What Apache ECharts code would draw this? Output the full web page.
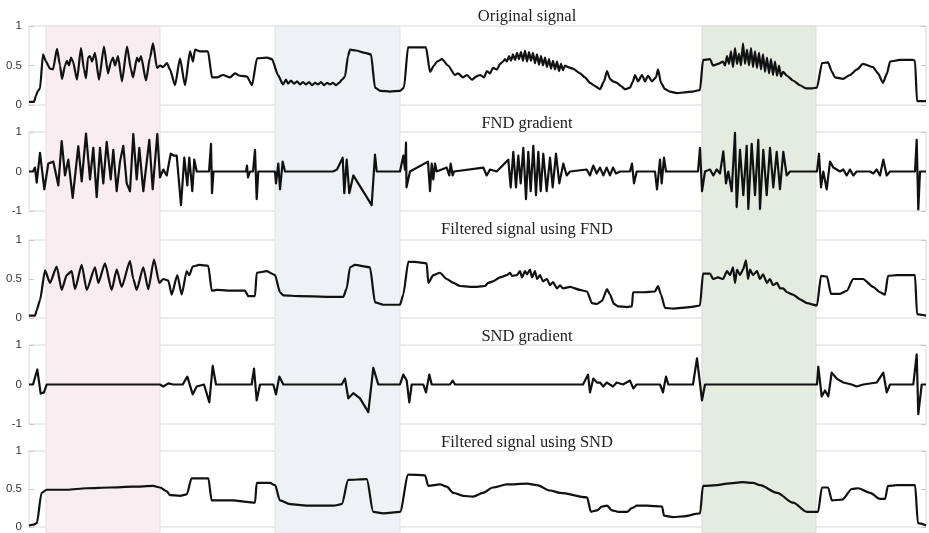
<!DOCTYPE html>
<html><head><meta charset="utf-8">
<script src="https://cdn.jsdelivr.net/npm/echarts@6/dist/echarts.min.js"></script>
<style>html,body{margin:0;padding:0;background:#fff}#c{width:929px;height:533px}</style>
</head><body><div id="c"></div>
<script>
const panelTitles = ['Original signal','FND gradient','Filtered signal using FND','SND gradient','Filtered signal using SND'];
const unitTicks = [0, 0.5, 1];
const gradTicks = [-1, 0, 1];
// shaded segments (sample index range)
const regions = [[46,160,'#f8edf0','#e6dde0'],[275,400,'#eef1f5','#dfe3e8'],[702,816,'#e3ecdf','#d5ddd2']];

const originalSignal = [[29,0.04],[34,0.04],[36,0.12],[38,0.18],[40,0.21],[43,0.64],[46,0.55],[50,0.46],[53,0.45],[57,0.71],[60,0.5],[62,0.33],[65,0.5],[67,0.56],[69,0.5],[71,0.6],[73,0.55],[77,0.32],[81,0.72],[84,0.45],[86,0.34],[88,0.6],[90,0.62],[92,0.55],[95,0.66],[99,0.32],[104,0.74],[108,0.4],[111,0.55],[113,0.6],[115,0.5],[118,0.62],[122,0.3],[127,0.74],[131,0.45],[133,0.35],[137,0.6],[139,0.55],[141,0.62],[146,0.31],[150,0.6],[153,0.78],[157,0.47],[160,0.5],[163,0.48],[167,0.53],[170,0.45],[175,0.25],[180,0.59],[185,0.25],[190,0.68],[193,0.55],[195,0.7],[200,0.68],[208,0.68],[212,0.35],[217,0.35],[223,0.38],[230,0.35],[235,0.4],[240,0.37],[247,0.36],[252,0.25],[257,0.59],[267,0.6],[272,0.58],[278,0.38],[283,0.26],[286,0.32],[288,0.27],[291,0.31],[294,0.27],[297,0.3],[300,0.26],[303,0.29],[306,0.26],[309,0.29],[312,0.25],[315,0.28],[318,0.26],[321,0.29],[324,0.25],[327,0.28],[330,0.26],[333,0.28],[336,0.25],[339,0.28],[342,0.32],[345,0.36],[348,0.62],[350,0.7],[356,0.69],[365,0.66],[371,0.64],[375,0.22],[380,0.18],[390,0.17],[400,0.18],[404,0.22],[408,0.73],[426,0.73],[430,0.42],[434,0.5],[437,0.55],[442,0.58],[448,0.5],[455,0.38],[458,0.4],[463,0.35],[467,0.38],[472,0.32],[476,0.36],[480,0.38],[484,0.35],[487,0.43],[490,0.4],[493,0.47],[497,0.45],[500,0.52],[503,0.55],[505,0.58],[507,0.55],[509,0.62],[511,0.56],[513,0.64],[515,0.57],[517,0.66],[519,0.58],[521,0.67],[523,0.56],[525,0.69],[527,0.55],[529,0.67],[531,0.56],[533,0.66],[535,0.53],[537,0.64],[539,0.51],[541,0.62],[543,0.5],[545,0.6],[547,0.48],[549,0.58],[551,0.46],[553,0.56],[555,0.45],[557,0.55],[559,0.43],[561,0.52],[563,0.44],[565,0.5],[568,0.48],[573,0.46],[580,0.4],[585,0.35],[590,0.28],[595,0.24],[600,0.2],[604,0.3],[607,0.43],[610,0.33],[613,0.3],[617,0.28],[621,0.24],[625,0.2],[630,0.22],[633,0.3],[635,0.38],[638,0.3],[642,0.38],[645,0.3],[648,0.37],[652,0.3],[656,0.35],[658,0.45],[661,0.28],[665,0.2],[670,0.17],[677,0.15],[685,0.16],[693,0.17],[700,0.19],[703,0.57],[710,0.58],[713,0.5],[718,0.52],[723,0.55],[725,0.5],[727,0.62],[729,0.52],[731,0.68],[733,0.48],[735,0.72],[737,0.52],[739,0.65],[741,0.5],[743,0.78],[745,0.52],[747,0.7],[749,0.5],[751,0.72],[753,0.48],[755,0.68],[757,0.47],[759,0.66],[761,0.45],[763,0.64],[765,0.42],[767,0.6],[769,0.4],[771,0.58],[773,0.38],[775,0.55],[777,0.37],[779,0.5],[781,0.36],[783,0.42],[787,0.37],[793,0.31],[800,0.25],[806,0.21],[812,0.21],[817,0.22],[822,0.53],[828,0.54],[832,0.42],[835,0.35],[843,0.33],[850,0.38],[857,0.45],[863,0.52],[873,0.48],[878,0.4],[883,0.28],[887,0.4],[890,0.55],[900,0.57],[913,0.57],[915,0.56],[917,0.05],[926,0.05]];

const fndGradient = [[29,0],[33,0],[35,0.1],[36.7,-0.28],[40,0.47],[44.3,-0.45],[48.3,0.2],[53.3,0.25],[58.3,-0.35],[61.7,0.77],[65,-0.1],[68.3,0.3],[72.7,-0.67],[78.3,0.64],[81.7,-0.25],[86,0.96],[90,-0.2],[93.3,0.6],[96.7,-0.65],[100,0.6],[103.3,-0.3],[106.7,0.75],[110.7,-0.2],[113.3,0.55],[116.7,-0.5],[120,0.25],[123.3,0.65],[126.7,-0.3],[130,-0.5],[133.3,0.95],[136.7,-0.2],[139.3,0.6],[143.3,-0.5],[149.3,0.8],[152.7,-0.45],[157.3,0.95],[160,-0.15],[163.3,0.05],[166.7,-0.1],[170.7,0.45],[174,0.4],[176.7,0.4],[181,-0.85],[184.3,0.35],[187.3,-0.35],[189.3,0.35],[192.3,-0.5],[194.3,0.3],[196.7,0],[209,0],[211,0.7],[212,-0.55],[213.5,0],[246,0],[247,0.15],[248,-0.15],[250,0],[253,0],[255,0.55],[256.7,-0.7],[258.3,0],[275,0],[276,-0.3],[278.3,0.2],[280,-0.45],[282.7,0.25],[285,0],[333,0],[337,0.05],[342.7,0.35],[344.3,-0.55],[346.7,0.3],[349.3,-0.55],[353.3,-0.1],[371.7,-0.85],[375,0.43],[376.7,0],[400,0],[403.3,0.4],[405,0.05],[406,0.73],[406.5,-0.4],[410,0],[428,0.25],[430,-0.5],[431.7,0.2],[433.3,-0.2],[435,0.2],[436.7,0],[446.7,0.1],[449.3,-0.1],[450.7,0.2],[452.7,-0.1],[454,0],[483.3,0.1],[486.7,-0.1],[490,0.05],[496.7,0],[508.3,0.3],[510.7,-0.4],[513.3,0.5],[516,-0.4],[518.3,0.4],[520.7,-0.3],[523.3,0.6],[526,-0.7],[528.3,0.5],[530.7,-0.5],[533.3,0.65],[536,-0.6],[538.3,0.5],[540.7,-0.5],[543.3,0.45],[546.7,-0.5],[550,0.35],[552.7,-0.4],[556,0.45],[559.3,-0.3],[563.3,0.2],[566.7,-0.1],[570,0],[586.7,0.05],[590,-0.1],[593.3,0.15],[596.7,-0.05],[600,0.1],[603.3,-0.1],[606.7,0.1],[610,-0.1],[613,0.1],[616,-0.05],[620,0],[630,0],[632,0.2],[634,-0.3],[636.7,0],[655,0],[657,-0.45],[660,0.3],[661.7,-0.3],[664,0.35],[666,0],[698,0],[700,0.6],[702,-0.5],[705,0],[710,0.05],[713.3,-0.1],[716.7,0.05],[720,-0.05],[723.3,0.51],[726,-0.3],[728.3,0],[731.7,-0.5],[735,0.98],[736.7,-0.9],[740,0.55],[743.3,-0.6],[746.7,0.65],[748.3,-0.95],[751.7,0.7],[755,-0.6],[758.3,0.8],[760,-0.95],[763.3,0.55],[766.7,-0.6],[770,0.6],[773.3,-0.4],[776.7,0.5],[780,-0.45],[783.3,0.5],[786.7,-0.1],[790,0],[817,0],[819,0.45],[821,-0.4],[823.3,0],[826.7,-0.45],[830,0.25],[833.3,0.1],[840,0],[843.3,0.05],[846.7,-0.1],[850,0.05],[853.3,-0.1],[856.7,0],[870,0],[873.3,-0.05],[876.7,0.05],[880,-0.1],[883.3,0.3],[886.7,-0.1],[890,0],[915,0],[916.7,0.8],[918.3,-0.96],[920,0],[926,0]];

const fndFiltered = [[29,0.03],[35,0.03],[36.7,0.1],[40,0.23],[45,0.61],[50,0.45],[56.7,0.66],[61.7,0.36],[66.7,0.55],[71.7,0.6],[75,0.37],[81.7,0.68],[86.7,0.36],[95,0.65],[98.3,0.45],[105,0.7],[111.7,0.36],[116.7,0.62],[121.7,0.4],[130,0.73],[133.3,0.5],[136.7,0.36],[143.3,0.65],[148.3,0.37],[154,0.75],[159.3,0.45],[163.3,0.5],[168.3,0.48],[171.7,0.3],[177.3,0.55],[181.7,0.3],[186.7,0.6],[189.3,0.55],[192.7,0.66],[199.3,0.68],[208.3,0.67],[211.7,0.35],[216.7,0.36],[233.3,0.35],[245,0.35],[248.3,0.28],[255,0.28],[256.7,0.58],[266.7,0.6],[275,0.55],[280,0.33],[283.3,0.29],[300,0.28],[340,0.27],[343.3,0.27],[346.7,0.38],[350,0.65],[355,0.68],[370,0.65],[375,0.2],[383.3,0.17],[400,0.17],[403.3,0.3],[408.3,0.72],[415,0.72],[426.7,0.7],[428.3,0.45],[433.3,0.55],[440,0.58],[446.7,0.5],[453.3,0.45],[460,0.41],[470,0.4],[477,0.4],[485,0.41],[488,0.45],[493,0.47],[500,0.52],[507,0.55],[510,0.58],[512,0.54],[517,0.55],[520,0.6],[522,0.52],[525,0.6],[527,0.56],[530,0.62],[532,0.52],[535,0.6],[537,0.5],[540,0.55],[543,0.47],[547,0.5],[550,0.42],[553,0.46],[557,0.38],[560,0.42],[563,0.38],[570,0.4],[580,0.36],[587,0.34],[592,0.19],[597,0.18],[602,0.22],[607,0.37],[610,0.3],[614,0.18],[618,0.15],[627,0.14],[632,0.15],[633,0.33],[643,0.33],[655,0.34],[658,0.41],[661,0.3],[665,0.13],[673,0.12],[690,0.14],[700,0.16],[703,0.57],[710,0.57],[713,0.5],[718,0.52],[723,0.5],[727,0.6],[730,0.55],[733,0.65],[735,0.45],[737,0.62],[740,0.55],[743,0.62],[746,0.74],[748,0.5],[750,0.62],[753,0.55],[757,0.6],[760,0.5],[763,0.56],[767,0.45],[770,0.5],[773,0.42],[777,0.45],[780,0.38],[783,0.38],[787,0.33],[793,0.3],[800,0.24],[807,0.19],[817,0.16],[821,0.54],[827,0.53],[831,0.31],[840,0.31],[847,0.35],[853,0.5],[863,0.5],[873,0.4],[880,0.33],[885,0.3],[888,0.54],[897,0.55],[915,0.55],[917,0.05],[926,0.03]];

const sndGradient = [[29,0],[33,0],[37.3,0.38],[40.7,-0.23],[44,-0.2],[46.7,0],[160,0],[163.3,-0.05],[168.3,0.03],[173.3,0],[182.7,0],[187.3,0.2],[192.7,-0.25],[196.7,-0.05],[204,0],[209.3,-0.45],[212.7,0.47],[216,0],[251.7,0],[254,0.4],[256.7,-0.4],[260,0],[273.3,0],[276,-0.25],[279.3,0.2],[283.3,0],[341.7,0],[345,0.15],[348.3,-0.35],[353.3,-0.22],[360,-0.35],[368.3,-0.7],[373.3,0.42],[378.3,0],[400,0],[403.3,0.25],[406.7,0.1],[409.3,-0.45],[411.7,0],[423.3,0],[426,-0.2],[429.3,0.25],[431.7,0],[450,0],[452.7,0.1],[455,0],[583,0],[588,0.25],[590,-0.2],[593.3,0.15],[597,0.05],[600,0.05],[603.3,-0.05],[606.7,0.05],[613,-0.05],[616.7,0.05],[623,0],[630,0.1],[633.3,-0.1],[636.7,0],[660,0],[663,-0.2],[666,0.2],[668.3,0],[693,0],[697,0.66],[702,-0.4],[705,0],[817,0],[818.3,0.45],[821.7,-0.3],[825,-0.15],[828.3,-0.3],[831.7,0.3],[836.7,0.15],[843.3,0.05],[851.7,0],[856.7,-0.05],[863.3,0],[876.7,0.05],[883.3,0.3],[886.7,-0.2],[890,0],[913.3,0],[916.7,0.76],[918.3,-0.75],[921.7,0],[926,0]];

const sndFiltered = [[29,0.02],[33.3,0.03],[36.7,0.05],[41.7,0.45],[46.7,0.49],[66.7,0.49],[86.7,0.51],[110,0.52],[133.3,0.53],[153.3,0.54],[160,0.52],[166.7,0.47],[170,0.42],[180,0.41],[186.7,0.43],[191.7,0.64],[208.3,0.64],[211.7,0.35],[233.3,0.35],[246.7,0.33],[255,0.32],[256.7,0.58],[270,0.58],[275,0.55],[280,0.35],[290,0.3],[306.7,0.28],[333.3,0.28],[341.7,0.3],[348.3,0.62],[366.7,0.63],[373.3,0.2],[383.3,0.18],[400,0.2],[408.3,0.69],[425,0.68],[428.3,0.54],[440,0.56],[446.7,0.53],[453.3,0.45],[463.3,0.41],[473,0.4],[483,0.45],[493,0.52],[507,0.56],[527,0.57],[537,0.55],[550,0.48],[560,0.45],[587,0.39],[591,0.2],[597,0.22],[602,0.27],[607,0.28],[612,0.22],[618,0.2],[627,0.2],[632,0.25],[637,0.28],[647,0.28],[662,0.27],[664,0.15],[673,0.13],[683,0.14],[700,0.18],[703,0.54],[717,0.55],[727,0.57],[743,0.59],[753,0.58],[760,0.55],[777,0.45],[793,0.32],[807,0.2],[818,0.2],[822,0.52],[828,0.52],[832,0.35],[842,0.36],[852,0.5],[858,0.51],[870,0.45],[880,0.37],[885,0.37],[888,0.54],[897,0.55],[915,0.55],[918,0.05],[926,0.02]];

const X_MIN = 29, X_MAX = 926;
const panels = [
  {data: originalSignal, ticks: unitTicks, top: 26, height: 79, titleY: 17, smooth: 0.2},
  {data: fndGradient, ticks: gradTicks, top: 132, height: 79, titleY: 124, smooth: false},
  {data: fndFiltered, ticks: unitTicks, top: 240, height: 78, titleY: 230, smooth: 0.2},
  {data: sndGradient, ticks: gradTicks, top: 345, height: 79, titleY: 337, smooth: false},
  {data: sndFiltered, ticks: unitTicks, top: 451, height: 78, titleY: 443, smooth: 0.3}
];

const grid = [], xAxis = [], yAxis = [], series = [], graphic = [];
grid.push({left: 29, right: 3, top: 26, bottom: 0, show: false});
xAxis.push({type: 'value', gridIndex: 0, min: X_MIN, max: X_MAX, show: false});
yAxis.push({type: 'value', gridIndex: 0, min: 0, max: 1, show: false});
series.push({type: 'line', xAxisIndex: 0, yAxisIndex: 0, data: [], silent: true, z: 0,
  markArea: {silent: true, data: regions.map(r => [
    {xAxis: r[0], itemStyle: {color: r[2], borderColor: r[3], borderWidth: 1}},
    {xAxis: r[1]}
  ])}});

panels.forEach((p, i) => {
  const gi = i + 1;
  grid.push({left: 29, right: 3, top: p.top, height: p.height, show: true,
    borderColor: '#d9d9d9', borderWidth: 1, backgroundColor: 'transparent'});
  xAxis.push({type: 'value', gridIndex: gi, min: X_MIN, max: X_MAX,
    axisLine: {show: false}, axisTick: {show: false}, axisLabel: {show: false}, splitLine: {show: false}});
  const mn = p.ticks[0], mx = p.ticks[2], iv = p.ticks[1] - p.ticks[0];
  yAxis.push({type: 'value', gridIndex: gi, min: mn, max: mx, interval: iv, position: 'left',
    axisLine: {show: false}, splitLine: {show: false},
    axisTick: {show: true, inside: true, length: 5, lineStyle: {color: '#c8c8c8'}},
    axisLabel: {show: true, margin: 7, fontSize: 11.5, color: '#333', fontFamily: 'Liberation Sans, Arial, sans-serif'}});
  yAxis.push({type: 'value', gridIndex: gi, min: mn, max: mx, interval: iv, position: 'right',
    axisLine: {show: false}, splitLine: {show: false},
    axisTick: {show: true, inside: true, length: 5, lineStyle: {color: '#c8c8c8'}},
    axisLabel: {show: false}});
  series.push({type: 'line', xAxisIndex: gi, yAxisIndex: yAxis.length - 2, data: p.data,
    showSymbol: false, symbol: 'none', z: 3, silent: true,
    smooth: p.smooth, smoothMonotone: 'x',
    lineStyle: {color: '#111', width: 2.2, join: 'round'}});
  graphic.push({type: 'text', x: 527, y: p.titleY, z: 10,
    style: {text: panelTitles[i], align: 'center', verticalAlign: 'middle',
      fontSize: 16.5, fontFamily: '"Liberation Serif", "DejaVu Serif", serif', fill: '#222'}});
});

const chart = echarts.init(document.getElementById('c'), null, {renderer: 'canvas'});
chart.setOption({animation: false, backgroundColor: '#fff', grid, xAxis, yAxis, series, graphic});
</script>
</body></html>
